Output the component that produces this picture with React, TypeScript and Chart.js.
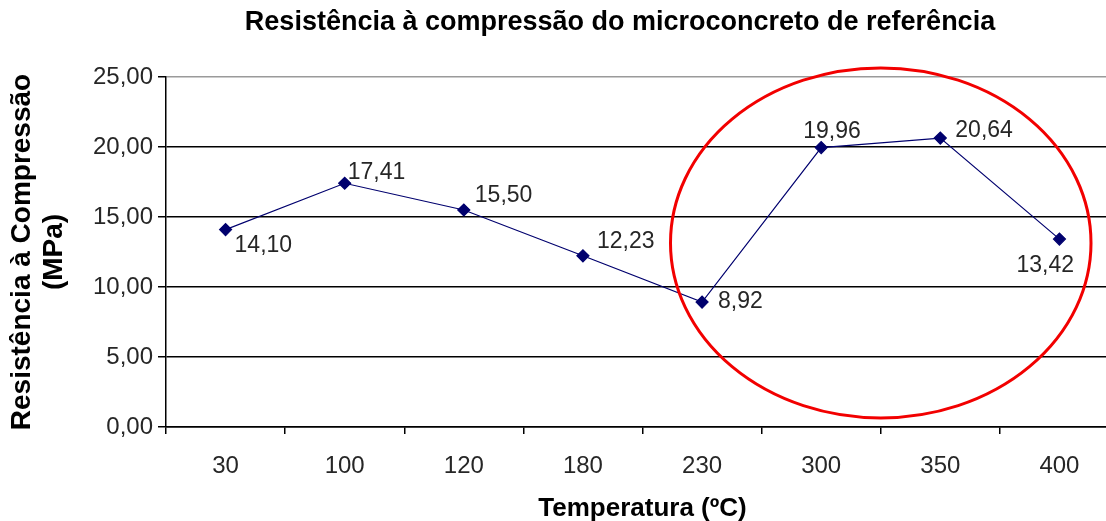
import React, { useEffect, useRef } from 'react';
import { Chart, registerables } from 'chart.js';

Chart.register(...registerables);

// ---- data ----
const categories = ['30', '100', '120', '180', '230', '300', '350', '400'];
const strength = [14.1, 17.41, 15.5, 12.23, 8.92, 19.96, 20.64, 13.42];
const yTickValues = [0, 5, 10, 15, 20, 25];

const chartTitle = 'Resistência à compressão do microconcreto de referência';
const xAxisTitle = 'Temperatura (ºC)';
const yAxisTitle = ['Resistência à Compressão', '(MPa)'];

// label placement relative to each point (style only)
const labelDx = [9, 3, 11, 14, 16, -18, 15, -43];
const labelDy = [16, -11, -14, -14, 0, -16, -7, 27];

// highlight ellipse, expressed in scale units (category index / MPa)
const highlightCenterIndex = 5.5;
const highlightCenterValue = 13.15;
const highlightHalfCategories = 1.765;
const highlightHalfValue = 12.5;

const FONT = '"Liberation Sans", Arial, Helvetica, sans-serif';
const fmt = (v: number) => v.toFixed(2).replace('.', ',');

const overlayPlugin = {
  id: 'overlay',
  afterDatasetsDraw(chart: any) {
    const ctx = chart.ctx;
    const meta = chart.getDatasetMeta(0);
    ctx.save();
    ctx.font = `23px ${FONT}`;
    ctx.fillStyle = '#262626';
    ctx.textAlign = 'left';
    ctx.textBaseline = 'middle';
    meta.data.forEach((pt: any, i: number) => {
      ctx.fillText(fmt(strength[i]), pt.x + labelDx[i], pt.y + labelDy[i]);
    });
    ctx.restore();
  },
  afterDraw(chart: any) {
    const ctx = chart.ctx;
    const xs = chart.scales.x;
    const ys = chart.scales.y;
    // title centred on the full chart width
    ctx.save();
    ctx.font = `bold 27px ${FONT}`;
    ctx.fillStyle = '#000';
    ctx.textAlign = 'center';
    ctx.textBaseline = 'middle';
    ctx.fillText(chartTitle, chart.width / 2, 23);
    ctx.restore();

    // red highlight ellipse
    const cx = xs.getPixelForValue(highlightCenterIndex);
    const cy = ys.getPixelForValue(highlightCenterValue);
    const rx = Math.abs(xs.getPixelForValue(highlightCenterIndex + highlightHalfCategories) - cx);
    const ry = Math.abs(ys.getPixelForValue(highlightCenterValue + highlightHalfValue) - cy);
    ctx.save();
    ctx.beginPath();
    ctx.ellipse(cx, cy, rx, ry, 0, 0, Math.PI * 2);
    ctx.strokeStyle = '#f20000';
    ctx.lineWidth = 3;
    ctx.stroke();
    ctx.restore();
  },
};

export default function App() {
  const ref = useRef<HTMLCanvasElement | null>(null);

  useEffect(() => {
    if (!ref.current) return;
    Chart.defaults.font.family = FONT;
    const chart = new Chart(ref.current, {
      type: 'line',
      data: {
        labels: categories,
        datasets: [
          {
            data: strength,
            borderColor: '#00006e',
            backgroundColor: '#00006e',
            borderWidth: 1.2,
            pointStyle: 'rectRot',
            pointRadius: 6,
            pointBackgroundColor: '#00006e',
            pointBorderColor: '#00006e',
            tension: 0,
          },
        ],
      },
      options: {
        responsive: false,
        animation: false,
        devicePixelRatio: 1,
        layout: { padding: { top: 77, right: 121, left: 0, bottom: 0 } },
        plugins: {
          legend: { display: false },
          tooltip: { enabled: false },
          title: { display: false },
        },
        scales: {
          x: {
            type: 'category',
            offset: true,
            grid: {
              offset: true,
              drawOnChartArea: false,
              drawTicks: true,
              tickLength: 7,
              color: '#000',
              lineWidth: 1.5,
            },
            border: { display: true, color: '#000', width: 1.5 },
            ticks: {
              color: '#262626',
              font: { size: 24, family: FONT },
              padding: 18,
              maxRotation: 0,
              autoSkip: false,
            },
            title: {
              display: true,
              text: xAxisTitle,
              color: '#000',
              font: { size: 26, weight: 'bold', family: FONT, lineHeight: 1 },
              padding: { top: 0, bottom: -1 },
            },
            afterFit: (s: any) => {
              s.height = 94;
            },
          },
          y: {
            min: 0,
            max: 25,
            afterBuildTicks: (s: any) => {
              s.ticks = yTickValues.map((v) => ({ value: v }));
            },
            grid: {
              color: (c: any) => (c.tick && c.tick.value === 25 ? '#9a9a9a' : '#000'),
              tickColor: '#000',
              lineWidth: 1.5,
              tickLength: 8,
            },
            border: { display: true, color: '#000', width: 1.5 },
            ticks: {
              color: '#262626',
              font: { size: 24, family: FONT },
              padding: 5,
              callback: (v: any) => fmt(Number(v)),
            },
            title: {
              display: true,
              text: yAxisTitle,
              color: '#000',
              font: { size: 28, weight: 'bold', family: FONT, lineHeight: 1.15 },
              padding: { top: 6, bottom: 0 },
            },
            afterFit: (s: any) => {
              s.width = 166;
            },
          },
        },
      },
      plugins: [overlayPlugin],
    });
    return () => chart.destroy();
  }, []);

  return (
    <div
      style={{
        position: 'fixed',
        left: 0,
        top: 0,
        width: 1106,
        height: 521,
        overflow: 'hidden',
        background: '#fff',
      }}
    >
      <canvas ref={ref} width={1240} height={521} style={{ display: 'block', width: 1240, height: 521 }} />
    </div>
  );
}
